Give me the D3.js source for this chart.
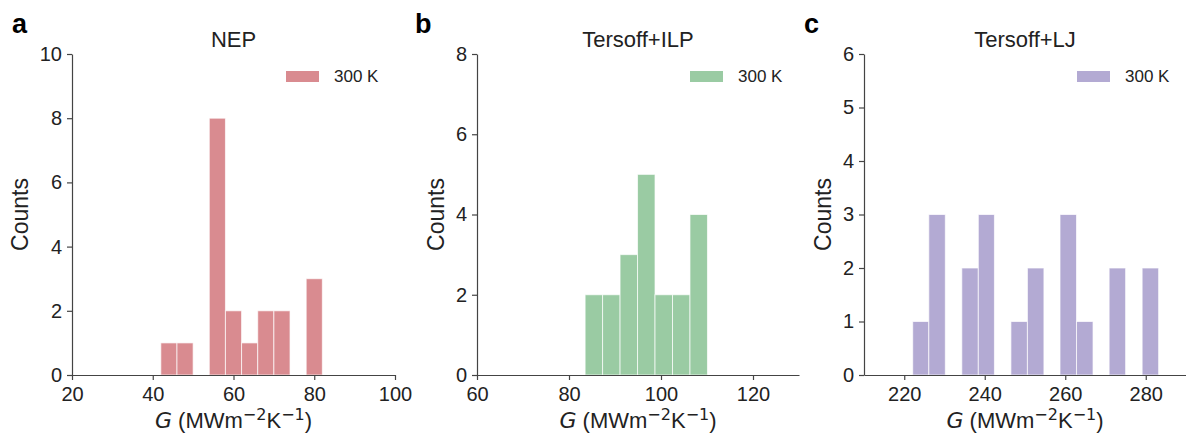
<!DOCTYPE html>
<html>
<head>
<meta charset="utf-8">
<script src="https://cdn.jsdelivr.net/npm/d3@7"></script>
<style>
  body { margin: 0; background: #fff; }
  svg { font-family: 'Liberation Sans', Arial, sans-serif; }
</style>
</head>
<body>
<div id="chart"></div>
<script>
// Bin edges and counts
const nepEdges = [42, 46, 50, 54, 58, 62, 66, 70, 74, 78, 82]
const nepCounts = [1, 1, 0, 8, 2, 1, 2, 2, 0, 3]

const ilpEdges = [83.5, 87.3, 91.1, 94.9, 98.7, 102.5, 106.3, 110.1]
const ilpCounts = [2, 2, 3, 5, 2, 2, 4]

const ljEdges = [222.1, 226.1, 230.2, 234.3, 238.4, 242.4, 246.5, 250.6, 254.7, 258.7, 262.8, 266.9, 270.9, 275.0, 279.1, 283.2]
const ljCounts = [1, 3, 0, 2, 3, 0, 1, 2, 0, 3, 1, 0, 2, 0, 2]

const panels = [
  { letter: 'a', title: 'NEP', edges: nepEdges, counts: nepCounts, color: '#d98b90',
    xDomain: [20, 100], xTicks: [20, 40, 60, 80, 100], yDomain: [0, 10], yTicks: [0, 2, 4, 6, 8, 10],
    left: 72, right: 395, letterX: 12 },
  { letter: 'b', title: 'Tersoff+ILP', edges: ilpEdges, counts: ilpCounts, color: '#9acba3',
    xDomain: [60, 130], xTicks: [60, 80, 100, 120], yDomain: [0, 8], yTicks: [0, 2, 4, 6, 8],
    left: 477, right: 799, letterX: 415 },
  { letter: 'c', title: 'Tersoff+LJ', edges: ljEdges, counts: ljCounts, color: '#b3aad3',
    xDomain: [210, 290], xTicks: [220, 240, 260, 280], yDomain: [0, 6], yTicks: [0, 1, 2, 3, 4, 5, 6],
    left: 864, right: 1186, letterX: 804 }
]

const W = 1186
const H = 437
const plotTop = 54
const plotBottom = 375
const axisColor = '#444'
const textColor = '#222'
const mainFont = "'Liberation Sans', Arial, sans-serif"
const mathFont = "'DejaVu Sans', sans-serif"

const svg = d3.select('#chart')
  .append('svg')
  .attr('width', W)
  .attr('height', H)

panels.forEach(p => {
  const g = svg.append('g')

  const x = d3.scaleLinear().domain(p.xDomain).range([p.left, p.right])
  const y = d3.scaleLinear().domain(p.yDomain).range([plotBottom, plotTop])

  const bins = p.counts.map((c, i) => ({ x0: p.edges[i], x1: p.edges[i + 1], count: c }))

  // bars
  g.append('g')
    .selectAll('rect')
    .data(bins.filter(d => d.count > 0))
    .join('rect')
    .attr('x', d => x(d.x0))
    .attr('y', d => y(d.count))
    .attr('width', d => x(d.x1) - x(d.x0))
    .attr('height', d => y(0) - y(d.count))
    .attr('fill', p.color)
    .attr('stroke', '#fff')
    .attr('stroke-opacity', 0.7)
    .attr('stroke-width', 1)

  // x axis
  const xAxis = g.append('g')
    .attr('transform', `translate(0,${plotBottom})`)
    .call(d3.axisBottom(x).tickValues(p.xTicks).tickSize(5).tickPadding(4).tickSizeOuter(0))
  // y axis
  const yAxis = g.append('g')
    .attr('transform', `translate(${p.left},0)`)
    .call(d3.axisLeft(y).tickValues(p.yTicks).tickFormat(d3.format('d'))
      .tickSize(5).tickPadding(5).tickSizeOuter(0))

  ;[xAxis, yAxis].forEach(a => {
    a.attr('font-family', mainFont)
    a.select('.domain').attr('stroke', axisColor).attr('stroke-width', 1.2)
    a.selectAll('.tick line').attr('stroke', axisColor).attr('stroke-width', 1.2)
    a.selectAll('.tick text')
      .attr('fill', textColor)
      .style('font-size', '20px')
  })
  xAxis.selectAll('.tick text').attr('dy', '0.83em')

  // widest y tick label to place the y title
  let maxW = 0
  yAxis.selectAll('.tick text').each(function () {
    maxW = Math.max(maxW, this.getComputedTextLength())
  })
  const yLabelX = p.left - 10 - maxW - 12
  g.append('text')
    .attr('transform', `translate(${yLabelX},${(plotTop + plotBottom) / 2}) rotate(-90)`)
    .attr('text-anchor', 'middle')
    .attr('fill', textColor)
    .style('font-size', '23px')
    .text('Counts')

  // x title
  const xl = g.append('text')
    .attr('x', (p.left + p.right) / 2)
    .attr('y', 428)
    .attr('text-anchor', 'middle')
    .attr('fill', textColor)
    .style('font-size', '22px')
  xl.append('tspan').style('font-family', mathFont).style('font-style', 'italic').text('G')
  xl.append('tspan').text(' (MWm')
  xl.append('tspan').attr('dy', -8).style('font-family', mathFont).style('font-size', '16px').text('\u22122')
  xl.append('tspan').attr('dy', 8).text('K')
  xl.append('tspan').attr('dy', -8).style('font-family', mathFont).style('font-size', '16px').text('\u22121')
  xl.append('tspan').attr('dy', 8).text(')')

  // title
  g.append('text')
    .attr('x', (p.left + p.right) / 2)
    .attr('y', 47)
    .attr('text-anchor', 'middle')
    .attr('fill', textColor)
    .style('font-size', '22px')
    .text(p.title)

  // panel letter
  g.append('text')
    .attr('x', p.letterX)
    .attr('y', 33)
    .attr('fill', '#000')
    .style('font-size', '27px')
    .style('font-weight', 'bold')
    .text(p.letter)

  // legend
  const lg = g.append('g').attr('transform', `translate(${p.right - 109},71)`)
  lg.append('rect')
    .attr('width', 33)
    .attr('height', 11)
    .attr('fill', p.color)
  lg.append('text')
    .attr('x', 48)
    .attr('y', 11)
    .attr('fill', textColor)
    .style('font-size', '17px')
    .text('300 K')
})
</script>
</body>
</html>
